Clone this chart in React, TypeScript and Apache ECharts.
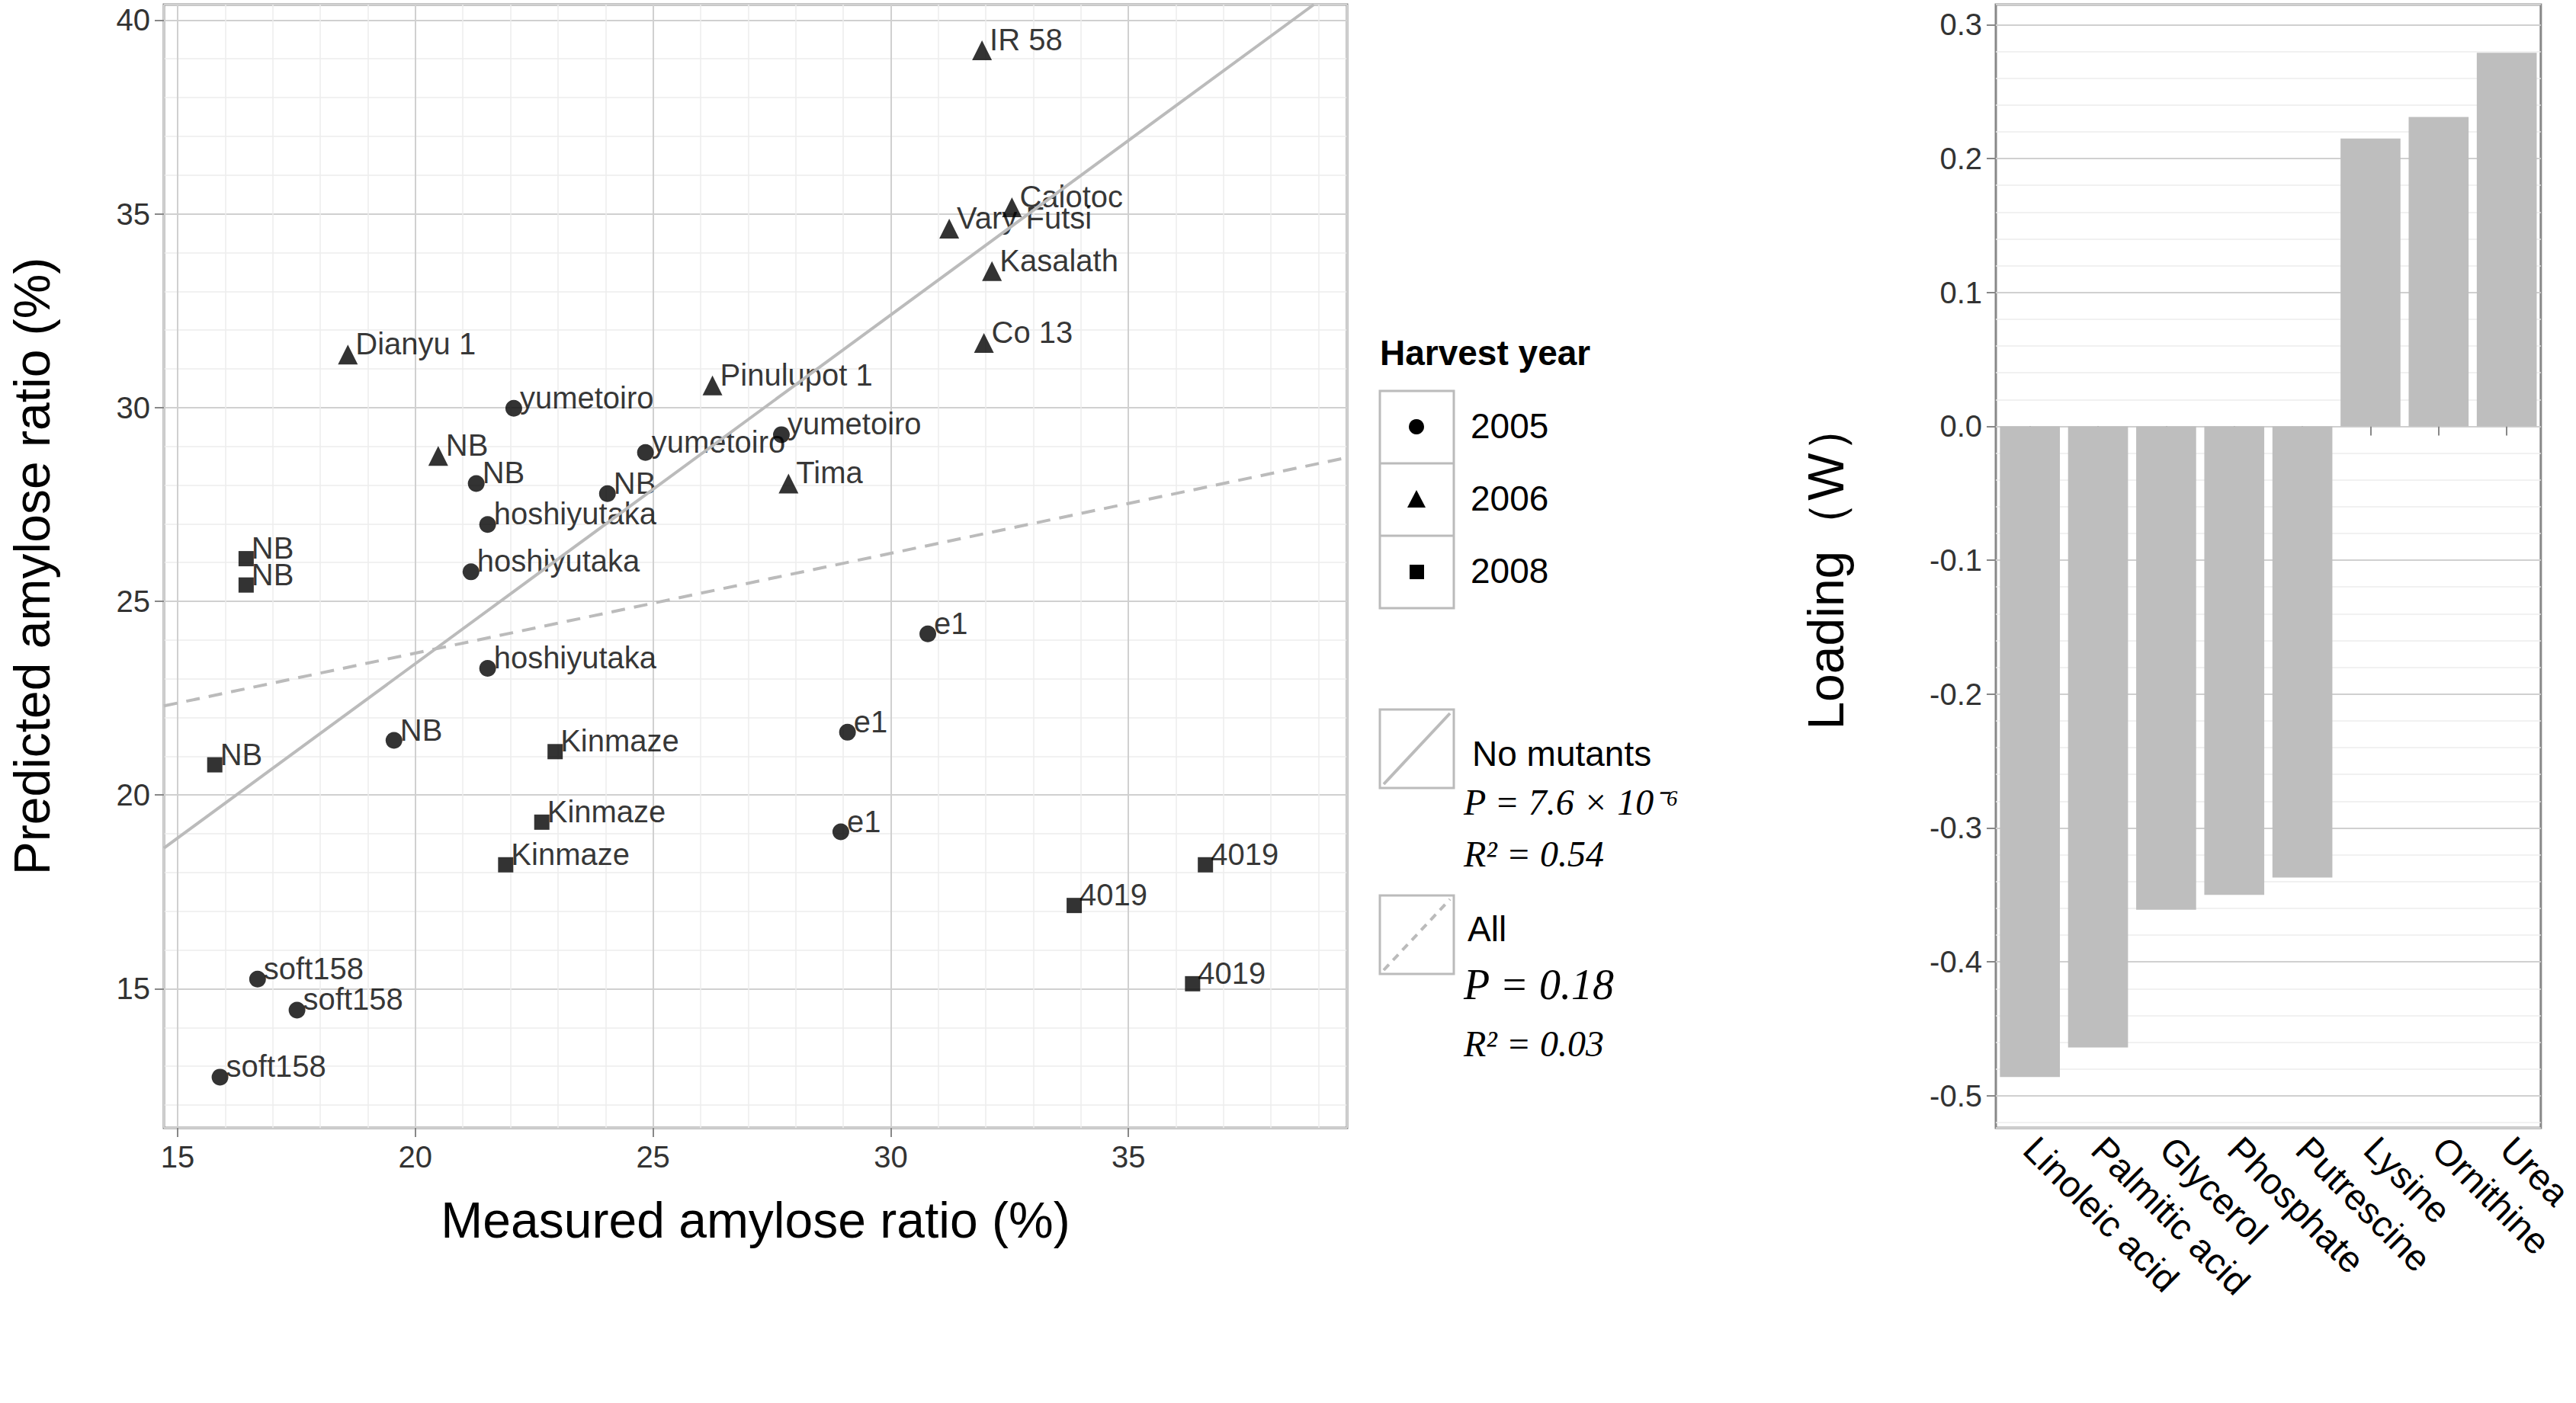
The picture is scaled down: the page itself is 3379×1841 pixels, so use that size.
import React, { useEffect, useRef } from "react";
import * as echarts from "echarts";

const pts2005: [number, number, string][] = [
  [22.07, 29.98, "yumetoiro"], [21.28, 28.04, "NB"], [21.52, 26.98, "hoshiyutaka"],
  [24.04, 27.78, "NB"], [24.84, 28.84, "yumetoiro"], [27.7, 29.3, "yumetoiro"],
  [21.17, 25.76, "hoshiyutaka"], [21.52, 23.27, "hoshiyutaka"], [19.55, 21.41, "NB"],
  [30.78, 24.16, "e1"], [29.09, 21.62, "e1"], [28.95, 19.05, "e1"],
  [16.68, 15.25, "soft158"], [17.51, 14.45, "soft158"], [15.89, 12.72, "soft158"],
];
const pts2006: [number, number, string][] = [
  [31.92, 39.22, "IR 58"], [32.55, 35.17, "Calotoc"], [31.23, 34.62, "Vary Futsi"],
  [32.13, 33.52, "Kasalath"], [31.96, 31.67, "Co 13"], [18.58, 31.37, "Dianyu 1"],
  [26.25, 30.57, "Pinulupot 1"], [20.48, 28.75, "NB"], [27.85, 28.04, "Tima"],
];
const pts2008: [number, number, string][] = [
  [16.44, 26.1, "NB"], [16.44, 25.42, "NB"], [15.78, 20.78, "NB"],
  [22.94, 21.12, "Kinmaze"], [22.66, 19.3, "Kinmaze"], [21.9, 18.2, "Kinmaze"],
  [33.86, 17.15, "4019"], [36.62, 18.2, "4019"], [36.35, 15.13, "4019"],
];
const lineNoMut: [number, number][] = [[14.71, 18.63], [38.9, 40.4]];
const lineAll: [number, number][] = [[14.71, 22.3], [39.6, 28.71]];
const barCats = ["Linoleic acid", "Palmitic acid", "Glycerol", "Phosphate", "Putrescine", "Lysine", "Ornithine", "Urea"];
const barVals = [-0.486, -0.464, -0.361, -0.35, -0.337, 0.215, 0.231, 0.279];

const F = "Liberation Sans, Arial, sans-serif";
const G = "#d0d0d0";

export default function App() {
  const ref = useRef<HTMLDivElement>(null);
  useEffect(() => {
    document.body.style.margin = "0";
    const chart = echarts.init(ref.current!, null, { renderer: "svg" });
    const scat = (d: [number, number, string][], sym: string, size: number) => ({
      type: "scatter", xAxisIndex: 0, yAxisIndex: 0, symbol: sym, symbolSize: size,
      itemStyle: { color: "#000" },
      data: d.map(p => ({ value: [p[0], p[1]], name: p[2] })),
      label: { show: true, formatter: "{b}", position: "right", offset: [-8, -14], color: "#000", fontSize: 40, fontFamily: F },
    });
    const tick = { color: "#333", fontSize: 40, fontFamily: F };
    const five = (v: number) => (Math.abs(v / 5 - Math.round(v / 5)) < 1e-6 ? String(Math.round(v)) : "");
    chart.setOption({
      animation: false,
      grid: [
        { left: 215, top: 6, width: 1552, height: 1474, show: true, borderColor: "#888", borderWidth: 3 },
        { left: 2618, top: 6, width: 744, height: 1474, show: true, borderColor: "#888", borderWidth: 3 },
      ],
      xAxis: [
        { type: "value", gridIndex: 0, min: 14.71, max: 39.6, splitNumber: 5, minorTick: { show: false },
          axisLine: { show: false }, axisTick: { show: true, length: 12, lineStyle: { color: "#888", width: 2 } },
          axisLabel: { ...tick, margin: 18, formatter: five, showMinLabel: false, showMaxLabel: false },
          splitLine: { show: true, lineStyle: { color: G, width: 2 } },
          minorSplitLine: { show: true, lineStyle: { color: "#ececec", width: 1.5 } },
          name: "Measured amylose ratio (%)", nameLocation: "middle", nameGap: 88,
          nameTextStyle: { fontSize: 66, fontFamily: F, color: "#000" } },
        { type: "category", gridIndex: 1, data: barCats,
          axisLine: { show: false }, axisTick: { show: true, alignWithLabel: true, length: 12, lineStyle: { color: "#888", width: 2 } },
          axisLabel: { color: "#000", fontSize: 48, fontFamily: F, rotate: -45, margin: 20, interval: 0 } },
      ],
      yAxis: [
        { type: "value", gridIndex: 0, min: 11.41, max: 40.4, splitNumber: 5,
          axisLine: { show: false }, axisTick: { show: true, length: 12, lineStyle: { color: "#888", width: 2 } },
          axisLabel: { ...tick, margin: 18, formatter: five, showMinLabel: false, showMaxLabel: false },
          splitLine: { show: true, lineStyle: { color: G, width: 2 } },
          minorTick: { show: false }, minorSplitLine: { show: true, lineStyle: { color: "#ececec", width: 1.5 } },
          name: "Predicted amylose ratio (%)", nameLocation: "middle", nameGap: 140,
          nameTextStyle: { fontSize: 66, fontFamily: F, color: "#000" } },
        { type: "value", gridIndex: 1, min: -0.524, max: 0.315, splitNumber: 8,
          axisLine: { show: false }, axisTick: { show: true, length: 12, lineStyle: { color: "#888", width: 2 } },
          axisLabel: { ...tick, margin: 18, showMinLabel: false, showMaxLabel: false,
            formatter: (v: number) => (Math.abs(v * 10 - Math.round(v * 10)) < 1e-6 ? v.toFixed(1) : "") },
          splitLine: { show: true, lineStyle: { color: G, width: 2 } },
          minorTick: { show: false }, minorSplitLine: { show: true, lineStyle: { color: "#ececec", width: 1.5 } },
          name: "Loading（W）", nameLocation: "middle", nameGap: 190,
          nameTextStyle: { fontSize: 66, fontFamily: F, color: "#000" } },
      ],
      series: [
        { type: "line", xAxisIndex: 0, yAxisIndex: 0, data: lineNoMut, symbol: "none", lineStyle: { color: "#bbb", width: 4 } },
        { type: "line", xAxisIndex: 0, yAxisIndex: 0, data: lineAll, symbol: "none", lineStyle: { color: "#bbb", width: 4, type: [18, 12] } },
        scat(pts2005, "circle", 22),
        scat(pts2006, "triangle", 26),
        scat(pts2008, "rect", 20),
        { type: "bar", xAxisIndex: 1, yAxisIndex: 1, data: barVals, barWidth: "88%", itemStyle: { color: "#bebebe" } },
      ],
      graphic: [
        { type: "text", left: 1810, top: 440, style: { text: "Harvest year", fontSize: 46, fontWeight: "bold", fontFamily: F, fill: "#000" } },
        { type: "rect", shape: { x: 1810, y: 513, width: 97, height: 285 }, style: { fill: "none", stroke: "#bbb", lineWidth: 3 } },
        { type: "line", shape: { x1: 1810, y1: 608, x2: 1907, y2: 608 }, style: { stroke: "#bbb", lineWidth: 3 } },
        { type: "line", shape: { x1: 1810, y1: 703, x2: 1907, y2: 703 }, style: { stroke: "#bbb", lineWidth: 3 } },
        { type: "circle", shape: { cx: 1858, cy: 560, r: 10 }, style: { fill: "#000" } },
        { type: "polygon", shape: { points: [[1858, 643], [1870, 666], [1846, 666]] }, style: { fill: "#000" } },
        { type: "rect", shape: { x: 1849, y: 741, width: 19, height: 19 }, style: { fill: "#000" } },
        { type: "text", left: 1929, top: 536, style: { text: "2005", fontSize: 46, fontFamily: F, fill: "#000" } },
        { type: "text", left: 1929, top: 631, style: { text: "2006", fontSize: 46, fontFamily: F, fill: "#000" } },
        { type: "text", left: 1929, top: 726, style: { text: "2008", fontSize: 46, fontFamily: F, fill: "#000" } },
        { type: "rect", shape: { x: 1810, y: 931, width: 97, height: 103 }, style: { fill: "none", stroke: "#bbb", lineWidth: 3 } },
        { type: "line", shape: { x1: 1815, y1: 1029, x2: 1902, y2: 936 }, style: { stroke: "#bbb", lineWidth: 4 } },
        { type: "text", left: 1931, top: 966, style: { text: "No mutants", fontSize: 46, fontFamily: F, fill: "#000" } },
        { type: "text", left: 1920, top: 1028, style: { text: "P = 7.6 × 10⁻⁶", fontSize: 48, fontStyle: "italic", fontFamily: "Liberation Serif, serif", fill: "#000" } },
        { type: "text", left: 1920, top: 1096, style: { text: "R² = 0.54", fontSize: 48, fontStyle: "italic", fontFamily: "Liberation Serif, serif", fill: "#000" } },
        { type: "rect", shape: { x: 1810, y: 1175, width: 97, height: 103 }, style: { fill: "none", stroke: "#bbb", lineWidth: 3 } },
        { type: "line", shape: { x1: 1815, y1: 1273, x2: 1902, y2: 1180 }, style: { stroke: "#bbb", lineWidth: 4, lineDash: [10, 8] } },
        { type: "text", left: 1925, top: 1196, style: { text: "All", fontSize: 46, fontFamily: F, fill: "#000" } },
        { type: "text", left: 1920, top: 1264, style: { text: "P = 0.18", fontSize: 56, fontStyle: "italic", fontFamily: "Liberation Serif, serif", fill: "#000" } },
        { type: "text", left: 1920, top: 1345, style: { text: "R² = 0.03", fontSize: 48, fontStyle: "italic", fontFamily: "Liberation Serif, serif", fill: "#000" } },
      ],
    });
    return () => chart.dispose();
  }, []);
  return <div ref={ref} style={{ width: 3379, height: 1841, background: "#fff" }} />;
}
